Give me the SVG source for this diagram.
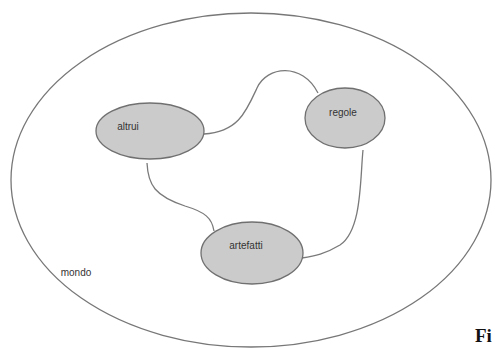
<svg xmlns="http://www.w3.org/2000/svg" width="495" height="349" viewBox="0 0 495 349">
  <style>
    .node ellipse { fill: #cbcbcb; stroke: #707070; stroke-width: 1.3; }
    .lbl { font-family: "Liberation Sans", Arial, sans-serif; font-size: 10px; fill: #333; text-anchor: middle; }
    .conn path { fill: none; stroke: #7a7a7a; stroke-width: 1.3; }
  </style>
  <rect width="495" height="349" fill="#ffffff"/>
  <!-- outer world -->
  <g id="mondo">
    <ellipse cx="251" cy="180" rx="240" ry="167" fill="none" stroke="#777" stroke-width="1.3"/>
    <text class="lbl" x="76" y="276">mondo</text>
  </g>
  <g class="conn" id="connectors">
    <path d="M 204 134 C 238 132, 246 112, 257 88 C 267 66, 302 62, 318 93"/>
    <path d="M 147 163 C 148 185, 155 196, 185 206 C 205 212, 212 218, 214 231"/>
    <path d="M 363 150 C 360 180, 362 230, 340 245 C 325 254, 315 256, 302 258"/>
  </g>
  <g class="node" id="altrui">
    <ellipse cx="150" cy="131" rx="54" ry="28"/>
    <text class="lbl" x="128" y="130">altrui</text>
  </g>
  <g class="node" id="regole">
    <ellipse cx="345" cy="118" rx="40" ry="30"/>
    <text class="lbl" x="343" y="116">regole</text>
  </g>
  <g class="node" id="artefatti">
    <ellipse cx="252" cy="253" rx="51" ry="31"/>
    <text class="lbl" x="246" y="249">artefatti</text>
  </g>
  <text x="475" y="342" font-family="Liberation Serif, serif" font-weight="bold" font-size="19" fill="#111">Fi</text>
</svg>
